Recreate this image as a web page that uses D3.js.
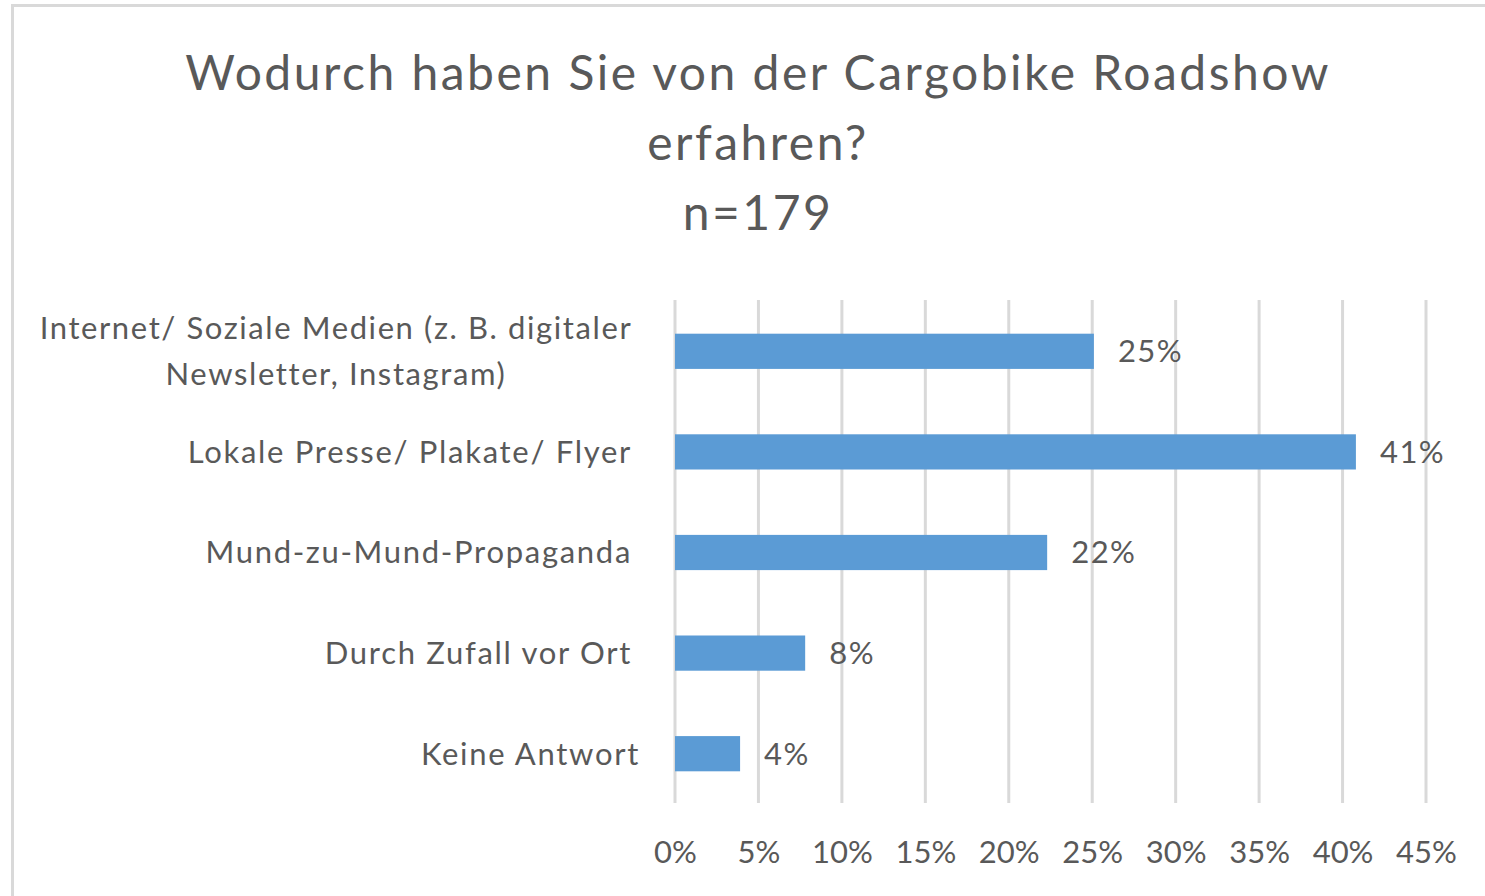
<!DOCTYPE html>
<html><head><meta charset="utf-8">
<script src="https://cdn.jsdelivr.net/npm/d3@7"></script>
<style>
body{margin:0;background:#fff;}
svg{display:block;font-family:Lato, "Open Sans", sans-serif;}
</style></head>
<body>
<svg id="c" width="1485" height="896"></svg>
<script>
const titleLines = ["Wodurch haben Sie von der Cargobike Roadshow", "erfahren?", "n=179"];
const categories = [
  ["Internet/ Soziale Medien (z. B. digitaler", "Newsletter, Instagram)"],
  ["Lokale Presse/ Plakate/ Flyer"],
  ["Mund-zu-Mund-Propaganda"],
  ["Durch Zufall vor Ort"],
  ["Keine Antwort"]
];
const values = [0.251, 0.408, 0.223, 0.078, 0.039];
const valueLabels = ["25%", "41%", "22%", "8%", "4%"];
const tickValues = [0, 0.05, 0.10, 0.15, 0.20, 0.25, 0.30, 0.35, 0.40, 0.45];

const svg = d3.select("#c");
const textColor = "#595959";

// chart frame border
svg.append("rect").attr("x", 12.5).attr("y", 5.5).attr("width", 1490).attr("height", 900)
  .attr("fill", "#fff").attr("stroke", "#d9d9d9").attr("stroke-width", 3);

// title
const titleY = [90, 160, 230];
svg.append("g").selectAll("text").data(titleLines).join("text")
  .attr("x", 758).attr("y", (d, i) => titleY[i])
  .attr("text-anchor", "middle").attr("fill", textColor)
  .attr("font-size", 48).attr("letter-spacing", 2.5).text(d => d);

const x = d3.scaleLinear().domain([0, 0.45]).range([675, 1426]);
const y = d3.scaleBand().domain(d3.range(categories.length)).range([301, 804]).paddingInner(0.65).paddingOuter(0.325);

// gridlines
svg.append("g").selectAll("line").data(tickValues).join("line")
  .attr("x1", d => x(d)).attr("x2", d => x(d))
  .attr("y1", 300).attr("y2", 803)
  .attr("stroke", "#d9d9d9").attr("stroke-width", 3);

// bars
svg.append("g").selectAll("rect").data(values).join("rect")
  .attr("x", x(0)).attr("y", (d, i) => y(i))
  .attr("width", d => x(d) - x(0)).attr("height", y.bandwidth())
  .attr("fill", "#5b9bd5");

// value labels
svg.append("g").selectAll("text").data(values).join("text")
  .attr("x", d => x(d) + 24).attr("y", (d, i) => y(i) + y.bandwidth() / 2)
  .attr("dy", "0.35em").attr("fill", textColor).attr("font-size", 31).attr("letter-spacing", 1.5)
  .text((d, i) => valueLabels[i]);

// x axis
const xAxis = d3.axisBottom(x).tickValues(tickValues).tickFormat(d3.format(".0%")).tickSize(0).tickPadding(0);
const gx = svg.append("g").attr("transform", "translate(0,852)").call(xAxis);
gx.select(".domain").remove();
gx.selectAll("text").attr("font-size", 31).attr("fill", textColor).attr("dy", "0.35em")
  .attr("font-family", "Lato, sans-serif");

// category labels
const lg = svg.append("g");
categories.forEach((lines, i) => {
  const cy = y(i) + y.bandwidth() / 2;
  if (lines.length === 1) {
    lg.append("text").attr("x", i === 4 ? 640 : 632).attr("y", cy).attr("dy", "0.35em")
      .attr("text-anchor", "end").attr("fill", textColor).attr("font-size", 31)
      .attr("letter-spacing", 1.7).text(lines[0]);
  } else {
    lines.forEach((l, j) => {
      lg.append("text").attr("x", 336).attr("y", cy + (j - 0.5) * 46).attr("dy", "0.35em")
        .attr("text-anchor", "middle").attr("fill", textColor).attr("font-size", 31)
        .attr("letter-spacing", 1.6).text(l);
    });
  }
});
</script>
</body></html>
